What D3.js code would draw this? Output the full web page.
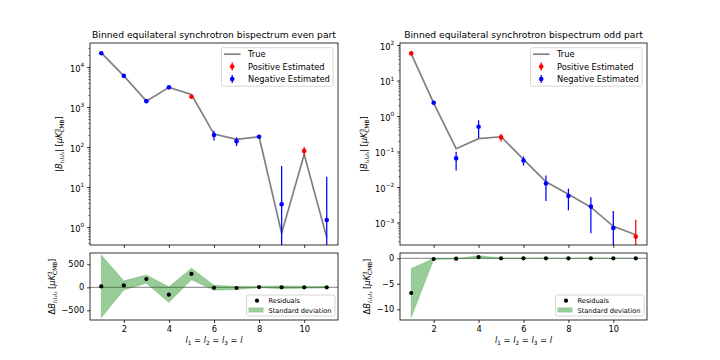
<!DOCTYPE html>
<html>
<head>
<meta charset="utf-8">
<script src="https://cdn.jsdelivr.net/npm/d3@7"></script>
<style>
  body { margin: 0; background: #fff; }
  svg { display: block; font-family: "DejaVu Sans", sans-serif; }
</style>
</head>
<body>
<div id="chart"></div>
<script>
// Values
const bins = [1, 2, 3, 4, 5, 6, 7, 8, 9, 10, 11];

const evenTrue = [22500, 6000, 1400, 3100, 2050, 210, 155, 180, 0.7, 65, 0.55];
const evenEst = [22000, 6000, 1400, 3100, 1800, 200, 140, 180, 3.7, 80, 1.5];
const evenStd = [680, 100, 90, 170, 127, 55, 35, 15, 30, 20, 16.5];
const evenSign = [-1, -1, -1, -1, 1, -1, -1, -1, -1, 1, -1];
const evenRes = [20, 40, 180, -160, 290, -10, -15, 5, 0, 0, 0];

const oddTrue = [56, 2.3, 0.12, 0.23, 0.26, 0.06, 0.014, 0.0062, 0.0027, 0.00078, 0.00045];
const oddEst = [58, 2.37, 0.064, 0.5, 0.25, 0.056, 0.0125, 0.0056, 0.0028, 0.0007, 0.0004];
const oddStd = [4.8, 0.1, 0.035, 0.26, 0.06, 0.016, 0.0085, 0.0034, 0.0023, 0.0014, 0.0008];
const oddSign = [1, -1, -1, -1, 1, -1, -1, -1, -1, -1, 1];
const oddRes = [-6.8, -0.14, -0.08, 0.25, 0, 0, 0, 0, 0, 0, 0];

const xTicks = [2, 4, 6, 8, 10];
const evenExps = [0, 1, 2, 3, 4];
const oddExps = [-3, -2, -1, 0, 1, 2];
const evenResTicks = [-500, 0, 500];
const oddResTicks = [-10, -5, 0];

// Style properties
const size = { width: 720, height: 360 };
const fs = { title: 9.2, label: 8.3, tick: 8.3, legend: 8.3, legendSmall: 6.64 };
const tickLen = 2.9;
const lineW = 0.8;
const trueColor = "#808080";

const svg = d3
  .select("#chart")
  .append("svg")
  .attr("width", size.width)
  .attr("height", size.height);

let clipId = 0;
function clip(g, x0, x1, y0, y1) {
  const id = "clip" + clipId++;
  svg
    .append("clipPath")
    .attr("id", id)
    .append("rect")
    .attr("x", x0)
    .attr("y", y0)
    .attr("width", x1 - x0)
    .attr("height", y1 - y0);
  return g.append("g").attr("clip-path", `url(#${id})`);
}

function styleAxis(g) {
  g.select(".domain").remove();
  g.selectAll(".tick line").attr("stroke", "#000").attr("stroke-width", lineW);
  g.selectAll(".tick text")
    .attr("fill", "#000")
    .style("font-size", fs.tick + "px")
    .style("font-family", "DejaVu Sans");
}

function frame(x0, x1, y0, y1) {
  svg
    .append("rect")
    .attr("x", x0)
    .attr("y", y0)
    .attr("width", x1 - x0)
    .attr("height", y1 - y0)
    .attr("fill", "none")
    .attr("stroke", "#000")
    .attr("stroke-width", lineW);
}

// y label with the |B_{l1l2l3}| [μK^3_CMB] style math
function yLabel(x, y, prefix) {
  const t = svg
    .append("text")
    .attr("transform", `translate(${x},${y}) rotate(-90)`)
    .attr("text-anchor", "middle")
    .style("font-size", fs.label + "px");
  t.append("tspan").text(prefix);
  t.append("tspan").attr("font-style", "italic").text("B");
  t.append("tspan")
    .attr("dy", 2)
    .attr("font-style", "italic")
    .style("font-size", "5.6px")
    .text("l₁l₂l₃");
  t.append("tspan").attr("dy", -2).text(prefix === "|" ? "| [" : " [");
  t.append("tspan").attr("font-style", "italic").text("μK");
  t.append("tspan").attr("dy", -3.2).style("font-size", "5.8px").text("3");
  t.append("tspan")
    .attr("dx", -3.6)
    .attr("dy", 5.4)
    .style("font-size", "5.8px")
    .text("CMB");
  t.append("tspan").attr("dy", -2.2).text("]");
}

function xLabel(cx, y) {
  const t = svg
    .append("text")
    .attr("x", cx)
    .attr("y", y)
    .attr("text-anchor", "middle")
    .style("font-size", fs.label + "px");
  ["1", "2", "3"].forEach((s) => {
    t.append("tspan").attr("font-style", "italic").text("l");
    t.append("tspan").attr("dy", 2).style("font-size", "5.8px").text(s);
    t.append("tspan").attr("dy", -2).text(" = ");
  });
  t.append("tspan").attr("font-style", "italic").text("l");
}

function legendBox(x0, y0, w, h) {
  svg
    .append("rect")
    .attr("x", x0)
    .attr("y", y0)
    .attr("width", w)
    .attr("height", h)
    .attr("rx", 1.7)
    .attr("fill", "#fff")
    .attr("fill-opacity", 0.8)
    .attr("stroke", "#ccc")
    .attr("stroke-width", lineW);
}

function topPanel(p) {
  const { x0, x1, y0, y1 } = p;
  const x = d3.scaleLinear([0.5, 11.5], [x0, x1]);
  const y = d3.scaleLog(p.yDomain, [y1, y0]);
  const ymin = p.yDomain[0] / 10;

  // Title
  svg
    .append("text")
    .attr("x", (x0 + x1) / 2)
    .attr("y", y0 - 5)
    .attr("text-anchor", "middle")
    .style("font-size", fs.title + "px")
    .text(p.title);

  const marks = clip(svg.append("g"), x0, x1, y0, y1);

  // True curve
  marks
    .append("path")
    .datum(bins)
    .attr("fill", "none")
    .attr("stroke", trueColor)
    .attr("stroke-width", 1.7)
    .attr(
      "d",
      d3
        .line()
        .x((d) => x(d))
        .y((d, i) => y(p.tru[i]))
    );

  // Estimated with error bars
  const pts = marks
    .append("g")
    .selectAll("g")
    .data(bins)
    .join("g")
    .attr("fill", (d, i) => (p.sign[i] > 0 ? "red" : "blue"))
    .attr("stroke", (d, i) => (p.sign[i] > 0 ? "red" : "blue"));
  pts
    .append("line")
    .attr("x1", (d) => x(d))
    .attr("x2", (d) => x(d))
    .attr("y1", (d, i) => y(Math.max(p.est[i] - p.std[i], ymin)))
    .attr("y2", (d, i) => y(p.est[i] + p.std[i]))
    .attr("stroke-width", 1.25);
  pts
    .append("circle")
    .attr("cx", (d) => x(d))
    .attr("cy", (d, i) => y(p.est[i]))
    .attr("r", 2.3)
    .attr("stroke", "none");

  // Axes
  svg
    .append("g")
    .attr("transform", `translate(0,${y1})`)
    .call(d3.axisBottom(x).tickValues(xTicks).tickSize(tickLen).tickFormat(""))
    .call(styleAxis);

  const majors = p.exps.map((e) => Math.pow(10, e));
  const minors = [];
  d3.range(p.exps[0] - 1, p.exps[p.exps.length - 1] + 1).forEach((e) => {
    d3.range(2, 10).forEach((m) => {
      const v = m * Math.pow(10, e);
      if (v > p.yDomain[0] && v < p.yDomain[1]) minors.push(v);
    });
  });
  svg
    .append("g")
    .attr("transform", `translate(${x0},0)`)
    .call(d3.axisLeft(y).tickValues(minors).tickSize(1.7).tickFormat(""))
    .call(styleAxis)
    .call((g) => g.selectAll(".tick line").attr("stroke-width", 0.5));
  const yAx = svg
    .append("g")
    .attr("transform", `translate(${x0},0)`)
    .call(
      d3
        .axisLeft(y)
        .tickValues(majors)
        .tickSize(tickLen)
        .tickPadding(2.9)
        .tickFormat(() => "10")
    )
    .call(styleAxis);
  yAx.selectAll(".tick text")
    .attr("dy", "0.5em")
    .each(function (d, i) {
      const e = p.exps[i];
      d3.select(this)
        .append("tspan")
        .attr("dy", -4.2)
        .style("font-size", "5.8px")
        .text(e < 0 ? "\u2212" + -e : e);
    });

  frame(x0, x1, y0, y1);
  yLabel(p.labelX, (y0 + y1) / 2, "|");

  // Legend
  const lx = x1 - 116.5;
  const ly = y0 + 4.7;
  legendBox(lx, ly, 111.5, 38.5);
  const rows = [
    { name: "True" },
    { name: "Positive Estimated", color: "red" },
    { name: "Negative Estimated", color: "blue" },
  ];
  rows.forEach((r, i) => {
    const cy = ly + 6.5 + i * 12.4;
    if (!r.color) {
      svg
        .append("line")
        .attr("x1", lx + 2.5)
        .attr("x2", lx + 19)
        .attr("y1", cy)
        .attr("y2", cy)
        .attr("stroke", trueColor)
        .attr("stroke-width", 1.7);
    } else {
      svg
        .append("line")
        .attr("x1", lx + 10.7)
        .attr("x2", lx + 10.7)
        .attr("y1", cy - 4)
        .attr("y2", cy + 4)
        .attr("stroke", r.color)
        .attr("stroke-width", 1.25);
      svg
        .append("circle")
        .attr("cx", lx + 10.7)
        .attr("cy", cy)
        .attr("r", 2.3)
        .attr("fill", r.color);
    }
    svg
      .append("text")
      .attr("x", lx + 26.5)
      .attr("y", cy + 3)
      .style("font-size", fs.legend + "px")
      .text(r.name);
  });
}

function bottomPanel(p) {
  const { x0, x1, y0, y1 } = p;
  const x = d3.scaleLinear([0.5, 11.5], [x0, x1]);
  const y = d3.scaleLinear(p.yDomain, [y1, y0]);

  const marks = clip(svg.append("g"), x0, x1, y0, y1);

  // zero line
  marks
    .append("line")
    .attr("x1", x0)
    .attr("x2", x1)
    .attr("y1", y(0))
    .attr("y2", y(0))
    .attr("stroke", "#808080")
    .attr("stroke-width", 1);

  // standard deviation band
  marks
    .append("path")
    .datum(bins)
    .attr("fill", "green")
    .attr("fill-opacity", 0.4)
    .attr("stroke", "green")
    .attr("stroke-opacity", 0.25)
    .attr("stroke-width", 0.8)
    .attr(
      "d",
      d3
        .area()
        .x((d) => x(d))
        .y0((d, i) => y(p.res[i] - p.std[i]))
        .y1((d, i) => y(p.res[i] + p.std[i]))
    );

  // residuals
  marks
    .append("g")
    .selectAll("circle")
    .data(bins)
    .join("circle")
    .attr("cx", (d) => x(d))
    .attr("cy", (d, i) => y(p.res[i]))
    .attr("r", 2.1)
    .attr("fill", "#000");

  svg
    .append("g")
    .attr("transform", `translate(0,${y1})`)
    .call(d3.axisBottom(x).tickValues(xTicks).tickSize(tickLen).tickPadding(2.9))
    .call(styleAxis);
  svg
    .append("g")
    .attr("transform", `translate(${x0},0)`)
    .call(
      d3
        .axisLeft(y)
        .tickValues(p.ticks)
        .tickSize(tickLen)
        .tickPadding(2.9)
        .tickFormat((d) => (d < 0 ? "\u2212" + -d : d))
    )
    .call(styleAxis);

  frame(x0, x1, y0, y1);
  yLabel(p.labelX, (y0 + y1) / 2, "Δ");
  xLabel((x0 + x1) / 2, 343);

  // Legend
  const lx = x1 - 91.5;
  const ly = y1 - 25;
  legendBox(lx, ly, 88.5, 21);
  svg
    .append("circle")
    .attr("cx", lx + 10.5)
    .attr("cy", ly + 5.7)
    .attr("r", 2.1)
    .attr("fill", "#000");
  svg
    .append("rect")
    .attr("x", lx + 2)
    .attr("y", ly + 12.5)
    .attr("width", 15)
    .attr("height", 5)
    .attr("fill", "green")
    .attr("fill-opacity", 0.4);
  [
    ["Residuals", ly + 8],
    ["Standard deviation", ly + 18],
  ].forEach(([name, yy]) => {
    svg
      .append("text")
      .attr("x", lx + 22)
      .attr("y", yy)
      .style("font-size", fs.legendSmall + "px")
      .text(name);
  });
}

topPanel({
  x0: 90, x1: 338, y0: 43, y1: 245,
  yDomain: [Math.pow(10, -0.45), Math.pow(10, 4.6)],
  exps: evenExps,
  tru: evenTrue, est: evenEst, std: evenStd, sign: evenSign,
  title: "Binned equilateral synchrotron bispectrum even part",
  labelX: 62,
});
topPanel({
  x0: 400, x1: 647, y0: 43, y1: 245,
  yDomain: [Math.pow(10, -3.634), Math.pow(10, 2.056)],
  exps: oddExps,
  tru: oddTrue, est: oddEst, std: oddStd, sign: oddSign,
  title: "Binned equilateral synchrotron bispectrum odd part",
  labelX: 367,
});
bottomPanel({
  x0: 90, x1: 338, y0: 253, y1: 320,
  yDomain: [-711, 746],
  res: evenRes, std: evenStd, ticks: evenResTicks,
  labelX: 55,
});
bottomPanel({
  x0: 400, x1: 647, y0: 253, y1: 320,
  yDomain: [-12.1, 1.04],
  res: oddRes, std: oddStd, ticks: oddResTicks,
  labelX: 370,
});
</script>
</body>
</html>
